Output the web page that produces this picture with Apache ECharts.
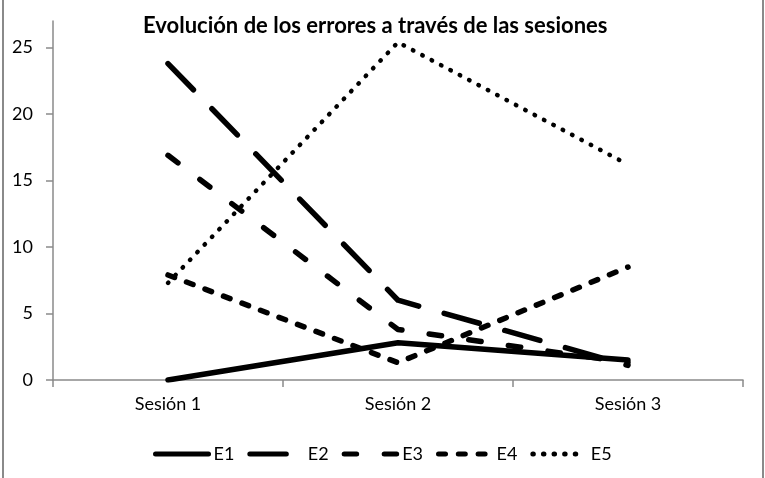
<!DOCTYPE html>
<html>
<head>
<meta charset="utf-8">
<script src="https://cdn.jsdelivr.net/npm/echarts@6/dist/echarts.min.js"></script>
<style>
  html, body { margin: 0; padding: 0; background: #fff; }
  #wrap { position: relative; width: 765px; height: 478px; }
  #chart { position: absolute; left: 0; top: 0; width: 765px; height: 478px; }
  .frame { position: absolute; top: 0; width: 2px; height: 478px; background: #8a8a8a; }
</style>
</head>
<body>
<div id="wrap">
  <div id="chart"></div>
  <div class="frame" style="left:2px"></div>
  <div class="frame" style="left:762px"></div>
</div>
<script>
const titleText = 'Evolución de los errores a través de las sesiones';
const categories = ['Sesión 1', 'Sesión 2', 'Sesión 3'];
const seriesNames = ['E1', 'E2', 'E3', 'E4', 'E5'];
const E1 = [0, 2.8, 1.5];
const E2 = [23.8, 6.0, 1.1];
const E3 = [16.9, 3.8, 1.3];
const E4 = [7.9, 1.3, 8.5];
const E5 = [7.3, 25.4, 16.2];
const yTicks = [0, 5, 10, 15, 20, 25];

const FONT = 'Lato, "Open Sans", sans-serif';
const dashes = [
  'solid',
  [36.5, 26.5],
  [12.5, 27.5],
  [7, 12.8],
  [0.5, 10.1]
];
const widths = [5.5, 5.5, 5.5, 5.5, 4.5];
const dataList = [E1, E2, E3, E4, E5];

const chart = echarts.init(document.getElementById('chart'), null, { renderer: 'canvas' });
chart.setOption({
  animation: false,
  backgroundColor: '#fff',
  title: {
    text: titleText,
    left: 138,
    top: 10,
    textStyle: { fontFamily: FONT, fontWeight: 'bold', fontSize: 22, color: '#000' }
  },
  grid: { left: 53, right: 22, top: 21, bottom: 98, containLabel: false },
  legend: {
    data: seriesNames,
    left: 148,
    top: 440,
    itemWidth: 53,
    itemHeight: 14,
    itemGap: 13,
    itemStyle: { color: 'rgba(0,0,0,0)', borderColor: 'rgba(0,0,0,0)', borderWidth: 0, opacity: 0 },
    lineStyle: { width: 5, cap: 'round' },
    textStyle: { fontFamily: FONT, fontSize: 18, color: '#000' }
  },
  xAxis: {
    type: 'category',
    data: categories,
    boundaryGap: true,
    axisLine: { lineStyle: { color: '#8a8a8a', width: 1.5 } },
    axisTick: { show: true, length: 7, lineStyle: { color: '#8a8a8a', width: 1.5 } },
    axisLabel: { margin: 15, fontFamily: FONT, fontSize: 18, color: '#000' },
    splitLine: { show: false }
  },
  yAxis: {
    type: 'value',
    min: 0,
    max: 27,
    interval: 5,
    axisLine: { show: true, lineStyle: { color: '#8a8a8a', width: 1.5 } },
    axisTick: { show: true, length: 7, customValues: yTicks, lineStyle: { color: '#8a8a8a', width: 1.5 } },
    axisLabel: { margin: 20, customValues: yTicks, fontFamily: FONT, fontSize: 18, color: '#000' },
    splitLine: { show: false }
  },
  series: seriesNames.map((name, i) => ({
    name: name,
    type: 'line',
    data: dataList[i],
    symbol: 'none',
    smooth: false,
    color: '#000',
    lineStyle: { color: '#000', width: widths[i], type: dashes[i], cap: 'round', join: 'round' }
  }))
});
</script>
</body>
</html>
